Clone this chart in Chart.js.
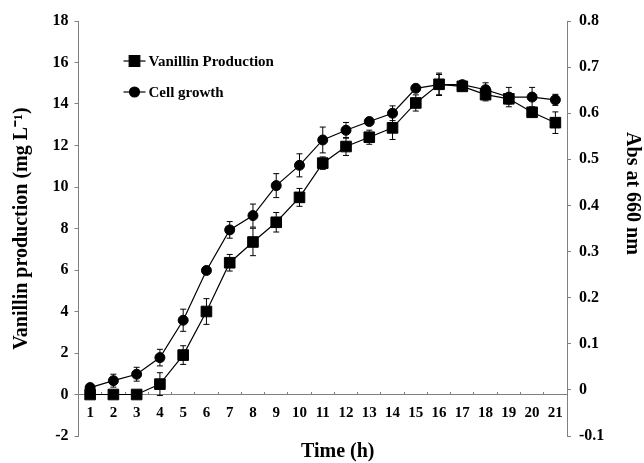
<!DOCTYPE html>
<html>
<head>
<meta charset="utf-8">
<script src="https://cdn.jsdelivr.net/npm/chart.js"></script>
<style>
    body { margin: 0; background: #fff; }
    #wrap { width: 644px; height: 463px; position: relative; }
</style>
</head>
<body>
<div id="wrap"><canvas id="myChart"></canvas></div>
<script>
var hours = ["1", "2", "3", "4", "5", "6", "7", "8", "9", "10", "11", "12", "13", "14", "15", "16", "17", "18", "19", "20", "21"];

// mg L-1
var vanillin = [0, 0, 0, 0.5, 1.9, 4.0, 6.35, 7.35, 8.3, 9.5, 11.15, 11.95, 12.4, 12.85, 14.05, 14.95, 14.85, 14.45, 14.25, 13.6, 13.1];
var vanillinErr = [0, 0, 0, 0.55, 0.45, 0.62, 0.4, 0.66, 0.47, 0.43, 0.3, 0.43, 0.34, 0.56, 0.39, 0.54, 0.15, 0.3, 0.25, 0.2, 0.52];

// Abs at 660 nm
var cellGrowth = [0.005, 0.02, 0.034, 0.07, 0.151, 0.259, 0.347, 0.378, 0.443, 0.487, 0.542, 0.563, 0.582, 0.6, 0.654, 0.662, 0.662, 0.651, 0.635, 0.635, 0.629];
var cellErr = [0.005, 0.014, 0.015, 0.018, 0.024, 0.005, 0.018, 0.025, 0.026, 0.025, 0.028, 0.017, 0.008, 0.016, 0.006, 0.022, 0.005, 0.015, 0.021, 0.021, 0.012];

var leftTicks = [-2, 0, 2, 4, 6, 8, 10, 12, 14, 16, 18];
var rightTicks = [-0.1, 0, 0.1, 0.2, 0.3, 0.4, 0.5, 0.6, 0.7, 0.8];

var axisGrey = "#808080";
var serif = "'Liberation Serif', 'Times New Roman', serif";

function tickFont(size) {
    return { family: serif, size: size, weight: "bold" };
}

// error bars drawn under the markers
var errorBars = {
    id: "errorBars",
    beforeDatasetsDraw: function (chart) {
        var ctx = chart.ctx;
        ctx.save();
        ctx.strokeStyle = "#000";
        ctx.lineWidth = 1;
        chart.data.datasets.forEach(function (ds, i) {
            var meta = chart.getDatasetMeta(i);
            var scale = chart.scales[ds.yAxisID];
            meta.data.forEach(function (pt, j) {
                var e = ds.errors[j];
                if (!e) return;
                var top = scale.getPixelForValue(ds.data[j] + e);
                var bot = scale.getPixelForValue(ds.data[j] - e);
                ctx.beginPath();
                ctx.moveTo(pt.x, top);
                ctx.lineTo(pt.x, bot);
                ctx.moveTo(pt.x - 3, top);
                ctx.lineTo(pt.x + 3, top);
                ctx.moveTo(pt.x - 3, bot);
                ctx.lineTo(pt.x + 3, bot);
                ctx.stroke();
            });
        });
        ctx.restore();
    }
};

// legend sits inside the plot, upper left
var innerLegend = {
    id: "innerLegend",
    afterDraw: function (chart) {
        var ctx = chart.ctx;
        var area = chart.chartArea;
        var x0 = area.left + 45;
        var y0 = area.top + 40;
        ctx.save();
        chart.data.datasets.forEach(function (ds, i) {
            var y = y0 + i * 31;
            ctx.strokeStyle = "#000";
            ctx.fillStyle = "#000";
            ctx.lineWidth = 1.2;
            ctx.beginPath();
            ctx.moveTo(x0, y);
            ctx.lineTo(x0 + 22, y);
            ctx.stroke();
            Chart.helpers.drawPoint(ctx, {
                pointStyle: ds.pointStyle,
                radius: ds.pointRadius,
                rotation: 0,
                borderWidth: 1
            }, x0 + 11, y);
            ctx.font = "bold 15px " + serif;
            ctx.textBaseline = "middle";
            ctx.textAlign = "left";
            ctx.fillText(ds.label, x0 + 25, y + 1);
        });
        ctx.restore();
    }
};

function init_chart() {
    var ctx = document.getElementById("myChart").getContext("2d");
    window.myChart = new Chart(ctx, {
        type: "line",
        data: {
            labels: hours,
            datasets: [
                {
                    label: "Vanillin Production",
                    data: vanillin,
                    errors: vanillinErr,
                    yAxisID: "y",
                    borderColor: "#000",
                    backgroundColor: "#000",
                    borderWidth: 1.2,
                    pointStyle: "rect",
                    pointRadius: 7.5,
                    pointBorderWidth: 1,
                    lineTension: 0,
                    fill: false
                },
                {
                    label: "Cell growth",
                    data: cellGrowth,
                    errors: cellErr,
                    yAxisID: "y1",
                    borderColor: "#000",
                    backgroundColor: "#000",
                    borderWidth: 1.2,
                    pointStyle: "circle",
                    pointRadius: 5,
                    pointBorderWidth: 1,
                    lineTension: 0,
                    fill: false
                }
            ]
        },
        options: {
            responsive: true,
            maintainAspectRatio: false,
            animation: false,
            layout: { padding: { top: 21, left: 0, right: 0, bottom: 27 } },
            plugins: {
                legend: { display: false },
                tooltip: { enabled: false }
            },
            scales: {
                x: {
                    type: "category",
                    position: { y: 0 },
                    offset: true,
                    grid: {
                        offset: true,
                        drawOnChartArea: false,
                        color: axisGrey,
                        tickLength: -3
                    },
                    border: { color: axisGrey, width: 1 },
                    ticks: {
                        color: "#000",
                        font: tickFont(15),
                        padding: 13,
                        maxRotation: 0,
                        autoSkip: false
                    },
                    title: {
                        display: true,
                        text: "      Time (h)",
                        color: "#000",
                        font: tickFont(20),
                        padding: { top: 0, bottom: 0 }
                    },
                    // box hangs from y=0, its bottom sets where the title goes
                    afterFit: function (scale) { scale.height = 69; }
                },
                y: {
                    position: "left",
                    min: leftTicks[0],
                    max: leftTicks[leftTicks.length - 1],
                    afterBuildTicks: function (scale) {
                        scale.ticks = leftTicks.map(function (v) { return { value: v }; });
                    },
                    grid: { drawOnChartArea: false, color: axisGrey, tickLength: 4 },
                    border: { color: axisGrey, width: 1 },
                    ticks: { color: "#000", font: tickFont(16), padding: 6 },
                    title: {
                        display: true,
                        text: "Vanillin production (mg L\u207B\u00B9)",
                        color: "#000",
                        font: tickFont(20),
                        padding: { top: 10, bottom: 0 }
                    },
                    afterFit: function (scale) { scale.width = 78.5; }
                },
                y1: {
                    position: "right",
                    min: rightTicks[0],
                    max: rightTicks[rightTicks.length - 1],
                    afterBuildTicks: function (scale) {
                        scale.ticks = rightTicks.map(function (v) { return { value: v }; });
                    },
                    grid: { drawOnChartArea: false, color: axisGrey, tickLength: 4 },
                    border: { color: axisGrey, width: 1 },
                    ticks: {
                        color: "#000",
                        font: tickFont(16),
                        padding: 8,
                        callback: function (v) { return String(Math.round(v * 10) / 10); }
                    },
                    title: {
                        display: true,
                        text: "Abs at 660 nm              ",
                        color: "#000",
                        font: tickFont(20),
                        padding: { top: 0, bottom: 0 }
                    },
                    afterFit: function (scale) { scale.width = 77; }
                }
            }
        },
        plugins: [errorBars, innerLegend]
    });
}

init_chart();
</script>
</body>
</html>
